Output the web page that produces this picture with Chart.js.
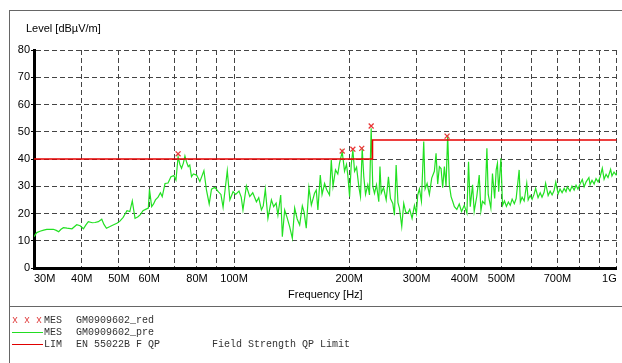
<!DOCTYPE html>
<html>
<head>
<meta charset="utf-8">
<script src="https://cdn.jsdelivr.net/npm/chart.js@4"></script>
<style>
  html, body { margin: 0; padding: 0; background: #fff; }
  #wrap { position: relative; width: 622px; height: 363px; overflow: hidden; }
  #c { position: absolute; left: 0; top: 0; }
  .ov { position: absolute; white-space: pre; }
  .sans { font-family: "Liberation Sans", Arial, sans-serif; font-size: 11px; color: #000; }
  .mono { font-family: "Liberation Mono", "Courier New", monospace; font-size: 10px; color: #333; line-height: 12px; }
</style>
</head>
<body>
<div id="wrap">
  <canvas id="c" width="622" height="363"></canvas>
  <div class="ov" style="left:9px;top:10px;width:613px;height:0;border-top:1px solid #666;"></div>
  <div class="ov" style="left:9px;top:10px;width:0;height:353px;border-left:1px solid #666;"></div>
  <div class="ov" style="left:9px;top:306px;width:613px;height:0;border-top:1px solid #666;"></div>
  <div class="ov sans" style="left:26px;top:22px;">Level [dBµV/m]</div>

  <div class="ov mono" style="left:12px;top:315px;color:#e04040;">x x x</div>
  <div class="ov mono" style="left:44px;top:315px;">MES</div>
  <div class="ov mono" style="left:76px;top:315px;">GM0909602_red</div>

  <div class="ov" style="left:12px;top:332px;width:31px;height:0;border-top:1.5px solid #22dd22;"></div>
  <div class="ov mono" style="left:44px;top:327px;">MES</div>
  <div class="ov mono" style="left:76px;top:327px;">GM0909602_pre</div>

  <div class="ov" style="left:12px;top:344px;width:31px;height:0;border-top:1.5px solid #e00000;"></div>
  <div class="ov mono" style="left:44px;top:339px;">LIM</div>
  <div class="ov mono" style="left:76px;top:339px;">EN 55022B F QP</div>
  <div class="ov mono" style="left:212px;top:339px;">Field Strength QP Limit</div>
</div>
<script>
// Frequency axis ticks (MHz) and their labels
const tickValues = [30, 40, 50, 60, 70, 80, 90, 100, 200, 300, 400, 500, 600, 700, 800, 900, 1000];
const tickLabels = ['30M', '40M', '50M', '60M', '', '80M', '', '100M', '200M', '300M', '400M', '500M', '', '700M', '', '', '1G'];

// Preview scan (MHz, dBµV/m)
const traceFreq = [
  30, 30.5, 31.1, 31.8, 32.4, 33.1, 33.7, 34.3, 34.8, 35.3,
  35.8, 36.6, 37.7, 38.8, 39.6, 40.4, 41.0, 41.6, 42.6, 43.3,
  44.2, 45.1, 45.7, 46.4, 47.4, 48.3, 49.4, 50.3, 51.3, 51.9,
  52.5, 53.4, 54.2, 55.1, 56.1, 56.9, 57.8, 58.9, 59.7, 60.1,
  60.9, 61.6, 62.3, 63.3, 64.2, 64.9, 66.0, 67.2, 68.4, 69.6,
  70.5, 71.4, 72.2, 72.9, 73.7, 74.4, 75.1, 75.9, 76.6, 77.4,
  78.3, 79.8, 81.4, 83.4, 84.7, 86.1, 87.3, 89.1, 90.9, 92.4,
  93.6, 96.0, 97.5, 99.4, 101.0, 103.0, 104.4, 105.5, 107.7, 109.9,
  111.9, 114.4, 116.0, 117.9, 119.2, 120.7, 122.6, 125.2, 126.9, 128.8,
  130.2, 132.4, 133.7, 135.6, 137.6, 139.7, 142.0, 144.0, 146.2, 148.4,
  150.8, 152.4, 154.4, 156.9, 159.2, 162.3, 164.0, 165.6, 168.0, 169.8,
  172.4, 174.5, 177.6, 179.5, 181.4, 184.1, 186.7, 188.6, 191.7, 194.4,
  196.7, 198.3, 200.4, 202.4, 204.4, 206.5, 209.0, 211.9, 214.0, 216.2,
  218.3, 220.6, 223.6, 225.9, 228.2, 230.4, 232.8, 235.6, 238.9, 240.6,
  242.4, 245.8, 249.8, 253.2, 256.3, 259.9, 262.5, 265.2, 268.1, 270.5,
  274.3, 277.6, 280.9, 284.3, 287.8, 291.9, 296.1, 299.6, 302.0, 305.1,
  308.8, 313.1, 315.7, 319.5, 323.9, 328.5, 333.8, 337.2, 340.5, 344.0,
  347.5, 350.9, 354.5, 358.1, 361.6, 365.3, 369.1, 372.6, 376.5, 382.1,
  387.7, 393.1, 399.5, 406.0, 410.0, 414.2, 420.0, 424.2, 431.1, 437.2,
  441.7, 445.9, 452.4, 457.9, 461.5, 468.9, 473.5, 479.8, 484.2, 487.9,
  491.5, 498.2,
  503, 509, 515, 521, 527, 533, 540, 546, 556, 560,
  566, 573, 582, 587, 594, 601, 608, 614, 623, 631,
  638, 646, 652, 662, 670, 678, 686, 693, 703, 711,
  720, 729, 737, 743, 755, 764, 774, 783, 792, 802,
  813, 822, 832, 846, 852, 862, 873, 883, 894, 905,
  917, 927, 938, 949, 964, 972, 984, 996, 1000
];
const traceLevel = [
  11.5, 13.0, 13.5, 13.9, 14.2, 14.2, 14.2, 13.8, 13.3, 14.2,
  14.8, 14.6, 14.4, 15.9, 15.5, 14.4, 15.8, 17.0, 16.6, 16.7,
  17.0, 17.9, 16.0, 14.6, 15.2, 15.8, 16.4, 17.2, 18.6, 19.8,
  21.0, 20.7, 24.6, 18.2, 18.8, 19.6, 21.0, 21.6, 22.0, 28.9,
  22.5, 23.5, 25.0, 26.0, 27.6, 26.2, 31.0, 31.2, 33.5, 33.9,
  32.3, 40.8, 38.0, 36.6, 38.5, 41.1, 39.0, 37.2, 37.8, 33.5,
  34.5, 34.1, 31.7, 35.7, 28.6, 23.5, 28.9, 29.6, 28.0, 27.0,
  22.3, 35.7, 25.0, 28.0, 27.0, 28.2, 26.0, 21.3, 30.1, 26.2,
  27.6, 24.3, 25.8, 21.3, 22.8, 28.9, 18.2, 25.0, 22.5, 23.8,
  19.4, 26.8, 11.5, 21.3, 18.5, 15.2, 10.9, 22.0, 18.0, 15.8,
  22.8, 20.5, 14.6, 29.5, 23.1, 27.4, 28.6, 21.3, 34.1, 27.0,
  31.0, 28.8, 26.8, 39.6, 30.0, 36.0, 34.5, 38.5, 42.7, 35.5,
  38.0, 34.0, 26.2, 38.0, 43.3, 35.5, 37.0, 29.8, 26.2, 43.9,
  33.5, 27.0, 30.5, 26.8, 51.3, 30.0, 27.4, 30.5, 24.3, 37.2,
  27.4, 29.5, 25.0, 33.5, 25.5, 23.7, 19.4, 37.8, 24.0, 22.0,
  15.2, 23.7, 20.5, 20.1, 21.5, 18.2, 23.0, 20.0, 26.8, 29.0,
  24.5, 46.4, 29.0, 31.0, 27.0, 33.0, 35.5, 42.1, 30.8, 37.2,
  36.5, 29.5, 37.2, 30.0, 48.8, 30.5, 26.2, 24.5, 22.5, 21.5,
  23.5, 20.7, 23.0, 20.1, 39.0, 22.5, 30.5, 20.8, 26.5, 34.1,
  21.0, 24.5, 23.5, 43.9, 27.0, 22.0, 34.7, 25.5, 36.0, 38.4,
  28.0, 40.3,
  23.0, 24.6, 22.6, 24.2, 23.0, 25.3, 23.6, 25.5, 36.0, 24.2,
  26.0, 24.6, 31.1, 25.0, 26.6, 25.2, 27.0, 29.2, 25.8, 27.6,
  26.0, 27.8, 31.1, 26.6, 28.2, 26.8, 28.4, 31.5, 27.2, 29.0,
  27.6, 29.2, 28.0, 29.8, 28.2, 30.0, 28.6, 30.4, 29.0, 30.8,
  32.5, 29.8, 31.6, 33.2, 30.6, 32.2, 30.8, 32.8, 31.6, 33.4,
  36.6, 32.6, 34.4, 33.2, 36.2, 33.8, 35.2, 34.2, 35.4
];

// Final measurement markers (MHz, dBµV/m)
const markFreq = [71.4, 191.7, 204.4, 215.6, 228.2, 360.3];
const markLevel = [41.9, 42.9, 43.6, 43.9, 52.1, 48.4];

// Limit line EN 55022B QP (MHz, dBµV/m)
const limitFreq = [30, 230, 230, 1000];
const limitLevel = [40, 40, 47, 47];

const zip = (xs, ys) => xs.map((x, i) => ({ x: x, y: ys[i] }));

new Chart(document.getElementById('c'), {
  type: 'line',
  data: {
    datasets: [
      {
        label: 'MES GM0909602_red',
        data: zip(markFreq, markLevel),
        showLine: false,
        pointStyle: 'crossRot',
        pointRadius: 3.5,
        pointBorderWidth: 1.3,
        pointBorderColor: '#e83838',
        pointBackgroundColor: '#e83838',
        order: 0
      },
      {
        label: 'LIM EN 55022B F QP',
        data: zip(limitFreq, limitLevel),
        borderColor: '#e80000',
        borderWidth: 1.6,
        pointRadius: 0,
        fill: false,
        order: 1
      },
      {
        label: 'MES GM0909602_pre',
        data: zip(traceFreq, traceLevel),
        borderColor: '#22e022',
        borderWidth: 1.2,
        pointRadius: 0,
        fill: false,
        tension: 0,
        order: 2
      }
    ]
  },
  options: {
    responsive: false,
    animation: false,
    devicePixelRatio: 1,
    layout: { padding: { left: 0, top: 50, right: 4, bottom: 61 } },
    plugins: { legend: { display: false }, tooltip: { enabled: false }, title: { display: false } },
    scales: {
      x: {
        type: 'logarithmic',
        min: 30,
        max: 1000,
        afterBuildTicks: (s) => { s.ticks = tickValues.map(v => ({ value: v })); },
        afterFit: (s) => { s.height = 34; },
        ticks: {
          autoSkip: false,
          maxRotation: 0,
          minRotation: 0,
          align: 'inner',
          padding: 4,
          color: '#000',
          font: { family: '"Liberation Sans", Arial, sans-serif', size: 11 },
          callback: (v) => { const i = tickValues.indexOf(v); return i >= 0 ? tickLabels[i] : ''; }
        },
        grid: { color: '#444', lineWidth: 1, drawTicks: false },
        border: { display: true, color: '#000', width: 3, dash: [5, 3] },
        title: {
          display: true,
          text: 'Frequency [Hz]',
          color: '#000',
          padding: 0,
          font: { family: '"Liberation Sans", Arial, sans-serif', size: 11 }
        }
      },
      y: {
        min: 0,
        max: 80,
        afterFit: (s) => { s.width = 34; },
        ticks: {
          stepSize: 10,
          padding: 1,
          color: '#000',
          font: { family: '"Liberation Sans", Arial, sans-serif', size: 11 }
        },
        grid: { color: '#444', lineWidth: 1, drawTicks: true, tickLength: 3, tickColor: '#000' },
        border: { display: true, color: '#000', width: 3, dash: [5, 3] }
      }
    }
  }
});
</script>
</body>
</html>
